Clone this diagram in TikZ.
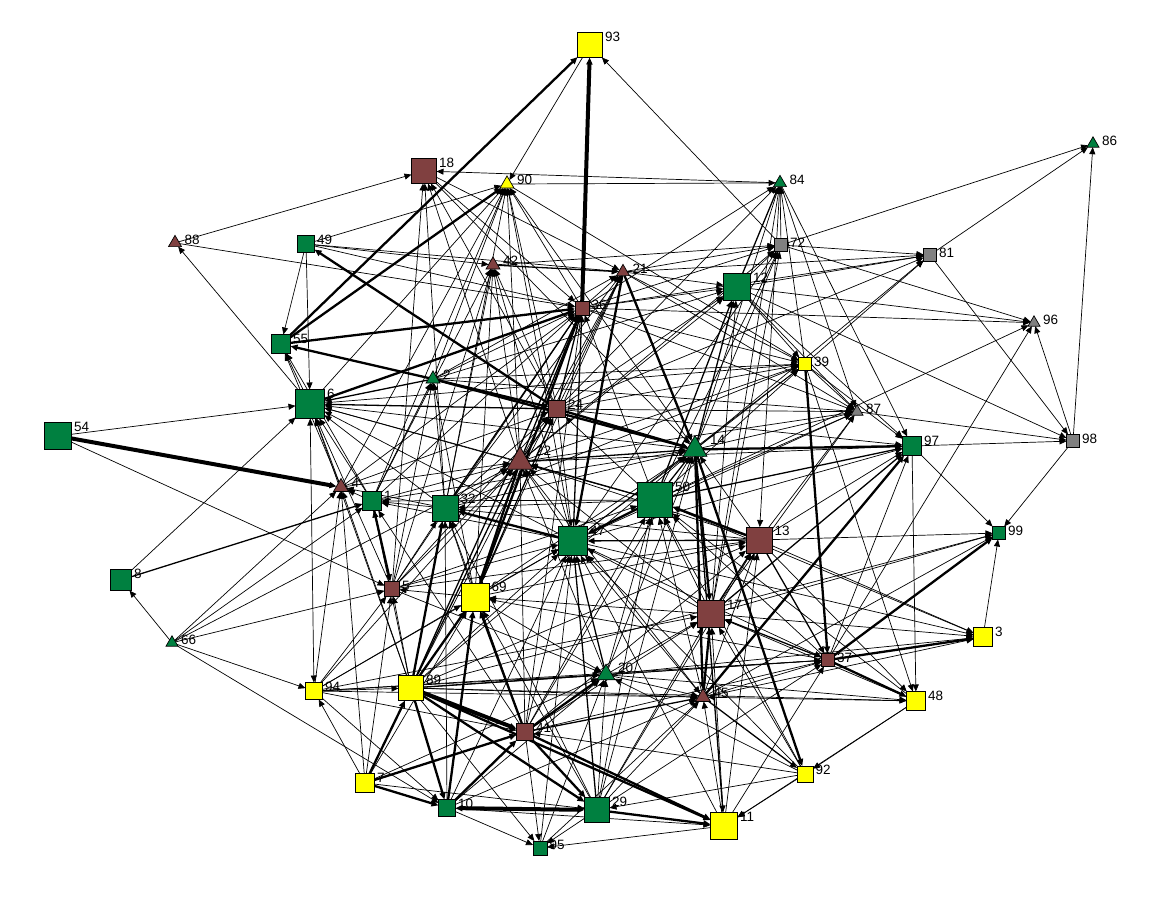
\documentclass[tikz,border=0pt]{standalone}
\usepackage{fontspec}
\setmainfont{Liberation Sans}
\usetikzlibrary{shapes.geometric,arrows.meta}
\definecolor{cgreen}{RGB}{0,128,64}
\definecolor{cbrown}{RGB}{128,64,64}
\definecolor{cyellow}{RGB}{255,255,0}
\definecolor{cgray}{RGB}{128,128,128}
\pgfdeclarelayer{bg}
\pgfsetlayers{bg,main}
\tikzset{
  sqr/.style={rectangle,draw=black,line width=0.7pt,inner sep=0pt,outer sep=0pt},
  tri/.style={regular polygon,regular polygon sides=3,draw=black,line width=0.7pt,inner sep=0pt,outer sep=0pt},
  lab/.style={anchor=west,inner sep=0pt,font=\fontsize{13.5}{13.5}\selectfont},
  ed/.style={draw=black,-{Triangle[length=7pt,width=6pt]}},
  edb/.style={draw=black,{Triangle[length=7pt,width=6pt]}-{Triangle[length=7pt,width=6pt]}},
  wt/.style={line width=0.7pt},
  wm/.style={line width=1.3pt},
  wk/.style={line width=2.3pt},
  wK/.style={line width=4pt}
}
\newcommand\mySQ[5]{%
  \node[sqr,minimum size=#4pt,fill=#5] (n#1) at (#2,#3) {};
  \node[lab] (l#1) at (#2+#4/2+2.5,#3-#4/2+4) {#1};}
\newcommand\myTR[5]{%
  \pgfmathsetmacro\trR{#4*0.57735}%
  \pgfmathsetmacro\trD{2*\trR}%
  \pgfmathsetmacro\trY{#3+0.25*\trR}%
  \pgfmathsetmacro\trL{#3-0.75*\trR+4}%
  \node[tri,minimum size=\trD pt,fill=#5] (n#1) at (#2,\trY) {};
  \node[lab] (l#1) at (#2+#4/2+3,\trL) {#1};}
\begin{document}
\begin{tikzpicture}[x=1pt,y=-1pt]
\begin{pgfonlayer}{bg}
\fill[white] (0,0) rectangle (1171,901);
\end{pgfonlayer}
\useasboundingbox (0,0) rectangle (1171,901);
% squares
\mySQ{93}{590}{45}{25}{cyellow}
\mySQ{18}{424}{171}{25}{cbrown}
\mySQ{49}{306}{244}{17}{cgreen}
\mySQ{72}{781}{245}{13}{cgray}
\mySQ{81}{930}{255}{13}{cgray}
\mySQ{12}{737}{287}{27}{cgreen}
\mySQ{36}{582}{308}{14}{cbrown}
\mySQ{55}{281}{344}{19}{cgreen}
\mySQ{39}{805}{364}{13}{cyellow}
\mySQ{6}{310}{404}{29}{cgreen}
\mySQ{24}{557}{409}{17}{cbrown}
\mySQ{54}{58}{436}{27}{cgreen}
\mySQ{98}{1073}{441}{13}{cgray}
\mySQ{97}{912}{446}{19}{cgreen}
\mySQ{1}{372}{501}{19}{cgreen}
\mySQ{32}{445}{508}{26}{cgreen}
\mySQ{50}{655}{500}{35}{cgreen}
\mySQ{47}{573}{541}{29}{cgreen}
\mySQ{13}{759}{540}{26}{cbrown}
\mySQ{99}{999}{533}{13}{cgreen}
\mySQ{8}{121}{580}{21}{cgreen}
\mySQ{5}{392}{589}{15}{cbrown}
\mySQ{69}{475}{597}{28}{cyellow}
\mySQ{17}{711}{614}{27}{cbrown}
\mySQ{3}{983}{637}{19}{cyellow}
\mySQ{37}{828}{660}{13}{cbrown}
\mySQ{89}{411}{688}{25}{cyellow}
\mySQ{94}{314}{691}{17}{cyellow}
\mySQ{48}{916}{701}{19}{cyellow}
\mySQ{41}{525}{732}{17}{cbrown}
\mySQ{92}{805}{774}{16}{cyellow}
\mySQ{7}{365}{783}{19}{cyellow}
\mySQ{10}{447}{808}{17}{cgreen}
\mySQ{29}{597}{810}{25}{cgreen}
\mySQ{11}{724}{826}{27}{cyellow}
\mySQ{95}{540}{848}{14}{cgreen}
% triangles
\myTR{86}{1093}{142}{12}{cgreen}
\myTR{84}{780}{181}{13}{cgreen}
\myTR{90}{507}{182}{14}{cyellow}
\myTR{88}{175}{241}{13}{cbrown}
\myTR{42}{493}{263}{14}{cbrown}
\myTR{21}{623}{270}{13}{cbrown}
\myTR{96}{1034}{321}{12}{cgray}
\myTR{2}{433}{377}{14}{cgreen}
\myTR{87}{857}{410}{12}{cgray}
\myTR{14}{695}{446}{24}{cgreen}
\myTR{22}{520}{458}{26}{cbrown}
\myTR{4}{341}{485}{15}{cbrown}
\myTR{66}{172}{641}{12}{cgreen}
\myTR{20}{606}{672}{18}{cgreen}
\myTR{45}{703}{695}{15}{cbrown}
\begin{pgfonlayer}{bg}
\foreach \a/\b/\w in {
36/93/wK, 55/93/wk, 72/93/wt, 93/90/wt,
84/18/wt, 88/18/wt, 5/18/wt, 32/18/wt, 22/18/wt, 24/18/wt, 18/21/wt, 18/36/wt, 18/14/wt,
90/84/wt, 49/90/wt, 55/90/wk, 2/90/wt, 4/90/wt, 32/90/wt, 22/90/wt, 36/90/wt, 47/90/wt, 14/90/wt, 6/90/wt, 24/90/wt, 1/90/wt,
72/84/wt, 12/84/wm, 14/84/wt, 39/84/wt, 24/84/wt, 36/84/wt, 17/84/wt,
84/87/wt, 84/97/wt, 84/13/wt,
88/36/wt, 6/88/wt,
49/21/wt, 49/36/wt, 49/42/wt, 49/55/wt, 49/6/wt, 24/49/wk,
42/21/wm, 42/72/wt, 32/42/wt, 22/42/wt, 47/42/wt, 69/42/wt, 1/42/wt, 24/42/wt, 5/42/wt,
2/21/wt, 24/21/wt, 22/21/wt, 36/21/wt, 32/21/wt, 89/21/wt, 69/21/wt,
21/47/wk, 21/14/wk, 21/12/wt, 21/81/wt, 21/39/wt, 21/87/wt, 21/72/wt,
72/81/wt, 72/86/wt, 72/96/wt, 36/72/wt, 12/72/wt, 14/72/wt, 22/72/wt, 50/72/wt, 47/72/wt, 17/72/wt,
39/81/wt, 36/81/wt, 14/81/wt, 12/81/wt, 81/86/wt, 81/98/wt, 24/81/wt,
98/86/wt, 36/96/wt, 98/96/wt, 50/96/wt, 37/96/wt, 12/96/wt,
98/99/wt, 87/98/wt, 12/98/wt, 97/98/wt,
36/12/wt, 22/12/wt, 24/12/wt, 2/12/wt, 50/12/wm, 17/12/wt, 14/12/wm,
12/87/wt, 12/97/wt, 12/39/wt,
55/36/wk, 6/36/wk, 2/36/wt, 4/36/wt, 1/36/wt, 32/36/wm, 22/36/wm, 24/36/wm, 47/36/wm, 69/36/wk, 5/36/wt, 89/36/wm, 50/36/wt, 41/36/wt,
36/39/wt, 36/87/wt,
2/55/wk, 6/55/wt, 4/55/wt, 1/55/wt,
39/37/wk, 24/39/wt, 22/39/wt, 14/39/wt, 50/39/wt, 47/39/wt, 2/39/wt, 6/39/wt, 32/39/wt, 90/39/wt,
39/87/wt, 39/97/wt, 39/48/wt,
54/6/wt, 8/6/wt, 4/6/wt, 1/6/wt, 5/6/wt, 89/6/wt, 32/6/wt, 22/6/wt, 24/6/wm, 2/6/wm, 47/6/wt, 14/6/wt, 50/6/wt,
2/24/wk, 2/14/wk, 2/87/wt,
24/14/wk, 24/87/wt, 24/97/wt, 24/47/wt,
54/4/wK, 54/5/wt,
14/97/wk, 45/97/wk, 17/97/wm, 13/97/wt, 50/97/wm, 47/97/wt, 37/97/wt, 22/97/wt,
97/48/wt, 97/99/wt,
47/87/wt, 14/87/wt, 50/87/wt, 22/87/wt, 17/87/wt, 13/87/wt,
22/14/wm, 47/14/wt, 50/14/wm, 32/14/wt, 13/14/wt, 20/14/wt, 41/14/wt, 89/14/wt, 69/14/wt, 29/14/wt, 1/14/wt,
14/92/wk, 14/17/wk, 14/45/wk, 14/11/wm,
4/22/wt, 1/22/wt, 32/22/wt, 5/22/wt, 89/22/wm, 94/22/wt, 47/22/wt, 50/22/wm, 17/22/wt, 41/22/wt, 20/22/wt, 13/22/wt, 66/22/wt,
22/69/wk, 22/24/wm, 22/45/wt,
66/4/wt, 1/4/wt, 32/4/wt, 89/4/wt, 94/4/wt, 7/4/wt, 4/24/wt,
8/1/wm, 66/1/wt, 89/1/wt, 32/1/wt, 47/1/wt, 41/1/wt, 50/1/wt,
1/2/wt, 1/5/wk,
89/32/wk, 69/32/wt, 10/32/wt, 41/32/wt, 47/32/wk, 5/32/wt, 50/32/wt, 13/32/wt, 29/32/wt,
32/2/wt, 32/24/wt,
13/50/wk, 17/50/wt, 37/50/wt, 45/50/wt, 29/50/wt, 41/50/wt, 20/50/wt, 92/50/wt, 5/50/wt, 48/50/wt,
50/47/wk, 50/24/wt, 50/3/wt,
69/47/wt, 89/47/wt, 41/47/wt, 29/47/wm, 20/47/wm, 17/47/wt, 13/47/wm, 45/47/wt, 95/47/wt, 92/47/wt, 10/47/wt, 5/47/wt, 11/47/wt,
17/13/wm, 45/13/wt, 41/13/wt, 29/13/wt, 89/13/wt, 69/13/wt, 5/13/wt, 11/13/wt,
13/99/wt, 13/3/wt, 13/48/wt, 13/37/wm,
37/99/wk, 3/99/wt, 17/99/wt, 45/99/wt, 89/99/wt,
66/8/wt,
94/5/wt, 89/5/wt, 7/5/wt, 69/5/wt, 66/5/wt,
5/2/wt, 5/24/wt, 69/24/wm, 69/2/wt,
89/69/wk, 41/69/wk, 10/69/wk, 29/69/wt, 17/69/wt, 37/69/wt, 7/69/wt, 94/69/wt,
45/17/wk, 41/17/wt, 29/17/wt, 20/17/wt, 37/17/wm, 92/17/wt, 48/17/wt, 11/17/wt, 94/17/wt,
66/94/wt, 66/10/wt,
37/3/wk, 17/3/wt, 45/3/wt, 20/3/wt, 47/3/wt,
45/37/wt, 20/37/wt, 41/37/wt, 89/37/wt, 94/37/wt, 29/37/wt, 11/37/wt, 47/37/wt,
37/48/wk,
89/20/wm, 41/20/wk, 69/20/wt, 10/20/wt, 29/20/wt, 95/20/wt, 94/20/wt, 5/20/wt, 7/20/wt, 92/20/wt,
20/45/wt, 20/48/wt,
94/89/wt, 94/41/wt, 94/45/wt, 94/47/wt, 94/10/wt,
7/89/wk, 89/41/wK, 89/29/wk, 89/11/wk, 89/10/wk, 89/45/wt, 89/48/wt, 89/95/wt,
41/45/wm, 29/45/wt, 10/45/wt, 95/45/wt, 11/45/wt, 48/45/wt,
45/92/wm, 48/92/wt, 48/11/wt,
41/11/wk, 41/29/wk, 10/41/wk, 41/95/wt, 92/41/wt,
7/10/wk, 7/41/wk, 7/29/wt, 7/94/wt,
10/95/wt, 10/11/wt,
29/11/wk, 29/95/wt,
92/11/wt, 92/29/wt,
11/95/wt}
  \draw[ed,\w] (n\a) -- (n\b);
\draw[edb,wK] (n10) -- (n29);
\draw[edb,wt] (n6) -- (n94);
\end{pgfonlayer}
\end{tikzpicture}
\end{document}
